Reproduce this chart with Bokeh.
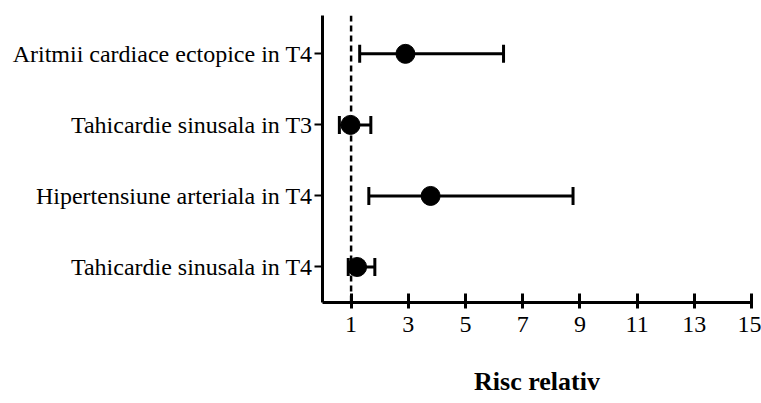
from bokeh.plotting import figure
from bokeh.models import FixedTicker, Span, Whisker, TeeHead, ColumnDataSource, Range1d
from bokeh.embed import file_html
from bokeh.resources import INLINE

# Relative risk estimates with 95% confidence intervals
outcomes = [
    "Aritmii cardiace ectopice in T4",
    "Tahicardie sinusala in T3",
    "Hipertensiune arteriala in T4",
    "Tahicardie sinusala in T4",
]
risc_relativ = [2.90, 0.98, 3.78, 1.21]
ci_lower = [1.30, 0.59, 1.62, 0.90]
ci_upper = [6.33, 1.69, 8.76, 1.83]
x_ticks = [1, 3, 5, 7, 9, 11, 13, 15]
x_title = "Risc relativ"

rows = list(range(len(outcomes), 0, -1))  # top row first

source = ColumnDataSource(dict(
    y=rows, rr=risc_relativ, lo=ci_lower, hi=ci_upper,
))

FONT = "Liberation Serif"

p = figure(
    width=761, height=403,
    x_range=Range1d(0, 15), y_range=Range1d(0.5, 4.54),
    output_backend="svg", toolbar_location=None,
    min_border_left=322, min_border_right=10,
    min_border_top=15, min_border_bottom=101,
)
p.outline_line_color = None
p.grid.visible = False
p.background_fill_color = "white"
p.border_fill_color = "white"

# Reference line at RR = 1
p.add_layout(Span(location=1, dimension="height", line_color="black",
                  line_width=2.5, line_dash="6 4", level="underlay"))

# Confidence intervals
p.add_layout(Whisker(
    source=source, base="y", lower="lo", upper="hi", dimension="width",
    line_color="black", line_width=3,
    lower_head=TeeHead(size=18, line_width=3, line_color="black"),
    upper_head=TeeHead(size=18, line_width=3, line_color="black"),
))

# Point estimates
p.scatter(x="rr", y="y", source=source, size=19, fill_color="black",
          line_color="black")

# X axis
xa = p.xaxis[0]
xa.ticker = FixedTicker(ticks=x_ticks)
xa.minor_tick_line_color = None
xa.axis_line_width = 3
xa.major_tick_line_width = 3
xa.major_tick_in = 9
xa.major_tick_out = 6
xa.major_label_text_font = FONT
xa.major_label_text_font_size = "24px"
xa.major_label_text_color = "black"
xa.major_label_standoff = 8
xa.axis_label = x_title
xa.axis_label_text_font = FONT
xa.axis_label_text_font_style = "bold"
xa.axis_label_text_font_size = "26px"
xa.axis_label_text_color = "black"
xa.axis_label_standoff = 32

# Y axis with outcome names
ya = p.yaxis[0]
ya.ticker = FixedTicker(ticks=rows)
ya.major_label_overrides = {r: name for r, name in zip(rows, outcomes)}
ya.minor_tick_line_color = None
ya.axis_line_width = 3
ya.major_tick_line_width = 2
ya.major_tick_in = 0
ya.major_tick_out = 8
ya.major_label_text_font = FONT
ya.major_label_text_font_size = "24px"
ya.major_label_text_color = "black"
ya.major_label_standoff = 2

open("out.html", "w").write(file_html(p, INLINE))
